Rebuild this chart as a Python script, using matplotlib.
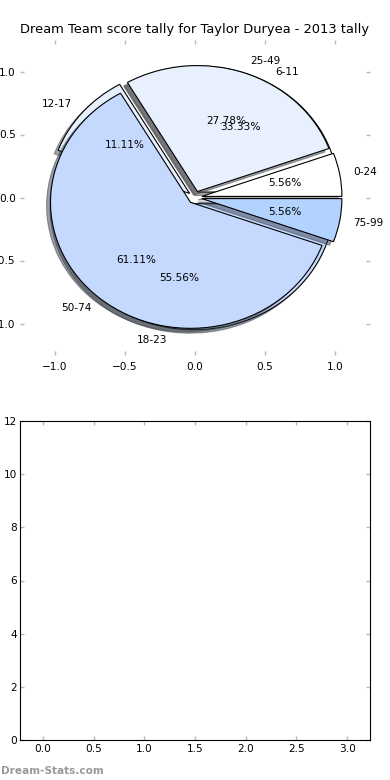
import matplotlib
matplotlib.use("Agg")
import matplotlib.pyplot as plt

title = "Dream Team score tally for Taylor Duryea - 2013 tally"

# Outer pie (score ranges)
score_labels = ["0-24", "25-49", "50-74", "75-99"]
score_counts = [1, 5, 11, 1]
# Inner pie (time ranges)
time_labels = ["6-11", "12-17", "18-23"]
time_counts = [6, 2, 10]

colors = ["#FFFFFF", "#E8F0FE", "#C5D9FE", "#B3D3FF"]
pie_ticks = [-1.0, -0.5, 0.0, 0.5, 1.0]
bar_xticks = [0.0, 0.5, 1.0, 1.5, 2.0, 2.5, 3.0]
bar_yticks = [0, 2, 4, 6, 8, 10, 12]

plt.rcParams['font.family'] = ['DejaVu Sans']
W, H = 390, 780
fig = plt.figure(figsize=(3.9, 7.8), dpi=100)

fs = 7.6
tick_col = "#b8b8b8"

ax1 = fig.add_axes([20 / W, 1 - 355 / H, 350 / W, 315 / H])
wp2 = dict(edgecolor="black", linewidth=0.8, zorder=1)
ax1.pie(time_counts, labels=time_labels, colors=colors[:3], explode=[0.05] * 3,
        autopct="%1.2f%%", shadow=True, wedgeprops=wp2,
        textprops=dict(fontsize=fs))
wp1 = dict(edgecolor="black", linewidth=0.8, zorder=2)
ax1.pie(score_counts, labels=score_labels, colors=colors, explode=[0.05] * 4,
        autopct="%1.2f%%", shadow=True, wedgeprops=wp1,
        textprops=dict(fontsize=fs))
ax1.set_aspect("auto")
ax1.set_frame_on(False)
ax1.set_xlim(-1.25, 1.25)
ax1.set_ylim(-1.25, 1.25)
ax1.set_xticks(pie_ticks)
ax1.set_yticks(pie_ticks)
ax1.tick_params(direction="in", top=True, right=True, length=3, width=1,
                color=tick_col, labelsize=fs)
ax1.tick_params(axis="y", pad=3)
ax1.tick_params(axis="x", pad=5)
ax1.set_title(title, fontsize=9.4, pad=5)

ax2 = fig.add_axes([20 / W, 1 - 740 / H, 350 / W, 319 / H])
ax2.set_xlim(-0.225, 3.225)
ax2.set_ylim(0, 12)
ax2.set_xticks(bar_xticks)
ax2.set_yticks(bar_yticks)
ax2.tick_params(direction="in", top=True, right=True, length=3, width=1,
                color=tick_col, labelsize=fs)
ax2.tick_params(axis="y", pad=2)
ax2.tick_params(axis="x", pad=3)
for s in ax2.spines.values():
    s.set_linewidth(0.8)

fig.text(1 / W, 1 - 771 / H, "Dream-Stats.com", color="#999999", fontsize=7.6,
         fontweight="bold", va="center", ha="left")

fig.savefig("out.png", dpi=100)
